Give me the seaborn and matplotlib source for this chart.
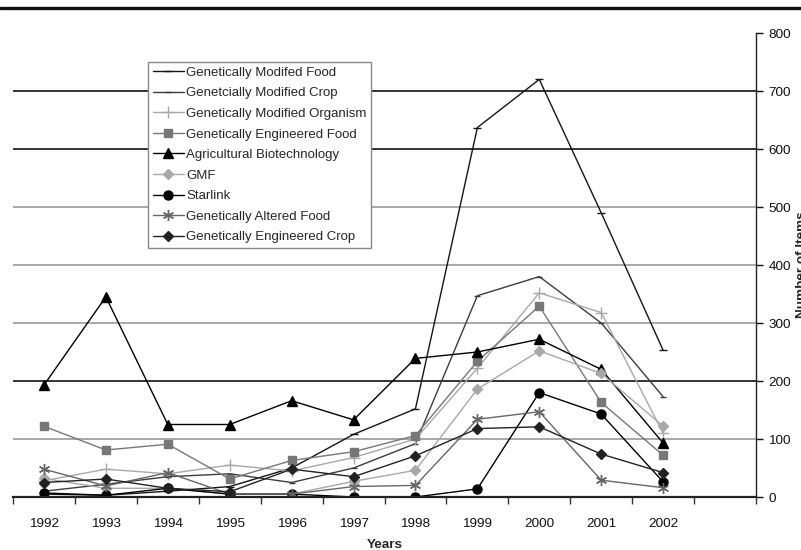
import matplotlib
matplotlib.use("Agg")
import matplotlib.pyplot as plt
from matplotlib.lines import Line2D
from matplotlib.ticker import MultipleLocator, FixedLocator
import seaborn as sns
import pandas as pd

years = [1992, 1993, 1994, 1995, 1996, 1997, 1998, 1999, 2000, 2001, 2002]

gm_food = [5, 3, 10, 18, 50, 108, 152, 637, 720, 490, 253]
gm_crop = [10, 22, 35, 40, 25, 50, 92, 347, 380, 300, 173]
gm_organism = [28, 48, 40, 55, 45, 68, 100, 222, 352, 318, 110]
ge_food = [122, 81, 91, 31, 63, 78, 106, 234, 329, 163, 72]
ag_biotech = [193, 345, 125, 125, 166, 133, 239, 250, 272, 220, 93]
gmf = [32, 15, 15, 5, 5, 27, 46, 186, 252, 213, 122]
starlink = [7, 3, 15, 5, 5, 0, 0, 14, 180, 143, 26]
ga_food = [48, 19, 42, 5, 5, 18, 20, 134, 147, 29, 16]
ge_crop = [25, 31, 15, 9, 48, 35, 71, 118, 121, 74, 42]

series_names = [
    "Genetically Modifed Food",
    "Genetcially Modified Crop",
    "Genetically Modified Organism",
    "Genetically Engineered Food",
    "Agricultural Biotechnology",
    "GMF",
    "Starlink",
    "Genetically Altered Food",
    "Genetically Engineered Crop",
]
series_values = [gm_food, gm_crop, gm_organism, ge_food, ag_biotech,
                 gmf, starlink, ga_food, ge_crop]

# style per series: colour, marker, marker size
styles = [
    ("#151515", "_", 6),
    ("#3c3c3c", "_", 5),
    ("#a8a8a8", "+", 8),
    ("#777777", "s", 6),
    ("#000000", "^", 6.5),
    ("#a8a8a8", "D", 5),
    ("#000000", "o", 6.5),
    ("#666666", (6, 2, 0), 8),
    ("#222222", "D", 5),
]

sns.set_style("white")
plt.rcParams["font.family"] = ["Liberation Sans", "DejaVu Sans"]

fig = plt.figure(figsize=(8.01, 5.5), dpi=100)
ax = fig.add_axes([13 / 801, 53 / 550, 743 / 801, 464 / 550])

for name, vals, (col, mk, ms) in zip(series_names, series_values, styles):
    df = pd.DataFrame({"Year": years, "Count": vals})
    sns.lineplot(data=df, x="Year", y="Count", ax=ax, color=col, marker=mk,
                 markersize=ms, markeredgecolor=col, markerfacecolor=col,
                 markeredgewidth=1.0, linewidth=1.0, label=name)

ax.set_xlim(1991.5, 2003.5)
ax.set_ylim(0, 800)

# x axis: labels at years, tick marks between categories
ax.xaxis.set_major_locator(FixedLocator(years))
ax.set_xticklabels([str(y) for y in years])
ax.xaxis.set_minor_locator(FixedLocator([y - 0.5 for y in years] + [2002.5, 2003.5]))
ax.tick_params(axis="x", which="major", length=0, pad=15, labelsize=9.7,
               colors="#111111")
ax.tick_params(axis="x", which="minor", length=5, width=1, direction="out",
               color="#333333", bottom=True)

# y axis on the right
ax.yaxis.tick_right()
ax.yaxis.set_major_locator(MultipleLocator(100))
ax.tick_params(axis="y", which="major", length=5, width=1, direction="out",
               pad=4, labelsize=9.7, colors="#111111", right=True, left=False)

for side in ["left", "top"]:
    ax.spines[side].set_visible(False)
ax.spines["right"].set_color("#222222")
ax.spines["right"].set_linewidth(1.0)
ax.spines["bottom"].set_color("#222222")
ax.spines["bottom"].set_linewidth(1.6)

ax.grid(axis="y", linewidth=1.2)
grid_cols = {100: "#9a9a9a", 200: "#111111", 300: "#9a9a9a", 400: "#9a9a9a",
             500: "#9a9a9a", 600: "#111111", 700: "#111111"}
for tick in ax.yaxis.get_major_ticks():
    v = round(tick.get_loc())
    gl = tick.gridline
    if v in grid_cols:
        gl.set_color(grid_cols[v])
    else:
        gl.set_visible(False)
ax.set_axisbelow(True)

ax.set_xlabel("Years", fontsize=9.7, fontweight="bold", labelpad=6.5)
ax.set_ylabel("")

leg = ax.legend(loc="upper left", bbox_to_anchor=(148 / 801, 1 - 62 / 550),
                bbox_transform=fig.transFigure, borderaxespad=0,
                fontsize=9.5, frameon=True, fancybox=False, framealpha=1,
                edgecolor="#888888", handlelength=2.4, handletextpad=0.15,
                labelspacing=0.63, borderpad=0.35)
leg.get_frame().set_linewidth(1.0)

# right-hand axis title, clipped by the page edge as in the source
fig.text(796 / 801, 1 - 265 / 550, "Number of Items", rotation=90,
         ha="left", va="center", fontsize=9.7, fontweight="bold")

# thick rule across the top of the page
fig.add_artist(Line2D([0, 1], [1 - 8 / 550, 1 - 8 / 550], color="#111111",
                      linewidth=2.4, transform=fig.transFigure))

fig.savefig("out.png", dpi=100)
